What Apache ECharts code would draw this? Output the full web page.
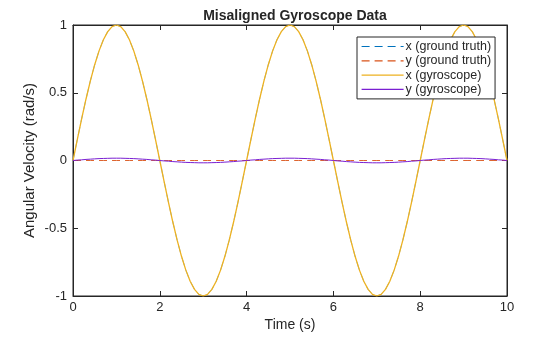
<!DOCTYPE html>
<html><head><meta charset="utf-8">
<script src="https://cdn.jsdelivr.net/npm/echarts@6/dist/echarts.min.js"></script>
<style>html,body{margin:0;padding:0;background:#fff}#c{width:560px;height:337px}</style>
</head><body><div id="c"></div>
<script>
const time = [0,0.1,0.2,0.3,0.4,0.5,0.6,0.7,0.8,0.9,1,1.1,1.2,1.3,1.4,1.5,1.6,1.7,1.8,1.9,
2,2.1,2.2,2.3,2.4,2.5,2.6,2.7,2.8,2.9,3,3.1,3.2,3.3,3.4,3.5,3.6,3.7,3.8,3.9,
4,4.1,4.2,4.3,4.4,4.5,4.6,4.7,4.8,4.9,5,5.1,5.2,5.3,5.4,5.5,5.6,5.7,5.8,5.9,
6,6.1,6.2,6.3,6.4,6.5,6.6,6.7,6.8,6.9,7,7.1,7.2,7.3,7.4,7.5,7.6,7.7,7.8,7.9,
8,8.1,8.2,8.3,8.4,8.5,8.6,8.7,8.8,8.9,9,9.1,9.2,9.3,9.4,9.5,9.6,9.7,9.8,9.9,10];
const xGroundTruth = [0,0.156,0.309,0.454,0.588,0.707,0.809,0.891,0.951,0.988,1,0.988,0.951,0.891,0.809,0.707,0.588,0.454,0.309,0.156,
0,-0.156,-0.309,-0.454,-0.588,-0.707,-0.809,-0.891,-0.951,-0.988,-1,-0.988,-0.951,-0.891,-0.809,-0.707,-0.588,-0.454,-0.309,-0.156,
0,0.156,0.309,0.454,0.588,0.707,0.809,0.891,0.951,0.988,1,0.988,0.951,0.891,0.809,0.707,0.588,0.454,0.309,0.156,
0,-0.156,-0.309,-0.454,-0.588,-0.707,-0.809,-0.891,-0.951,-0.988,-1,-0.988,-0.951,-0.891,-0.809,-0.707,-0.588,-0.454,-0.309,-0.156,
0,0.156,0.309,0.454,0.588,0.707,0.809,0.891,0.951,0.988,1,0.988,0.951,0.891,0.809,0.707,0.588,0.454,0.309,0.156,0];
const yGroundTruth = [0,0,0,0,0,0,0,0,0,0,0,0,0,0,0,0,0,0,0,0,
0,0,0,0,0,0,0,0,0,0,0,0,0,0,0,0,0,0,0,0,
0,0,0,0,0,0,0,0,0,0,0,0,0,0,0,0,0,0,0,0,
0,0,0,0,0,0,0,0,0,0,0,0,0,0,0,0,0,0,0,0,
0,0,0,0,0,0,0,0,0,0,0,0,0,0,0,0,0,0,0,0,0];
const xGyro = [0,0.156,0.309,0.454,0.588,0.707,0.809,0.891,0.951,0.988,1,0.988,0.951,0.891,0.809,0.707,0.588,0.454,0.309,0.156,
0,-0.156,-0.309,-0.454,-0.588,-0.707,-0.809,-0.891,-0.951,-0.988,-1,-0.988,-0.951,-0.891,-0.809,-0.707,-0.588,-0.454,-0.309,-0.156,
0,0.156,0.309,0.454,0.588,0.707,0.809,0.891,0.951,0.988,1,0.988,0.951,0.891,0.809,0.707,0.588,0.454,0.309,0.156,
0,-0.156,-0.309,-0.454,-0.588,-0.707,-0.809,-0.891,-0.951,-0.988,-1,-0.988,-0.951,-0.891,-0.809,-0.707,-0.588,-0.454,-0.309,-0.156,
0,0.156,0.309,0.454,0.588,0.707,0.809,0.891,0.951,0.988,1,0.988,0.951,0.891,0.809,0.707,0.588,0.454,0.309,0.156,0];
const yGyro = [0,0.003,0.005,0.008,0.010,0.012,0.014,0.015,0.016,0.017,0.017,0.017,0.016,0.015,0.014,0.012,0.010,0.008,0.005,0.003,
0,-0.003,-0.005,-0.008,-0.010,-0.012,-0.014,-0.015,-0.016,-0.017,-0.017,-0.017,-0.016,-0.015,-0.014,-0.012,-0.010,-0.008,-0.005,-0.003,
0,0.003,0.005,0.008,0.010,0.012,0.014,0.015,0.016,0.017,0.017,0.017,0.016,0.015,0.014,0.012,0.010,0.008,0.005,0.003,
0,-0.003,-0.005,-0.008,-0.010,-0.012,-0.014,-0.015,-0.016,-0.017,-0.017,-0.017,-0.016,-0.015,-0.014,-0.012,-0.010,-0.008,-0.005,-0.003,
0,0.003,0.005,0.008,0.010,0.012,0.014,0.015,0.016,0.017,0.017,0.017,0.016,0.015,0.014,0.012,0.010,0.008,0.005,0.003,0];
const seriesNames = ['x (ground truth)','y (ground truth)','x (gyroscope)','y (gyroscope)'];
const xTicks = [0,2,4,6,8,10];
const yTicks = [-1,-0.5,0,0.5,1];

const pairs = v => time.map((t,i)=>[t,v[i]]);
const ink = '#262626';
const font = 'Liberation Sans, Arial, sans-serif';
const chart = echarts.init(document.getElementById('c'));
const axisCommon = {
  axisLine:{show:true,onZero:false,lineStyle:{color:ink,width:1}},
  axisTick:{show:true,inside:true,length:5,lineStyle:{color:ink}},
  splitLine:{show:false}
};
chart.setOption({
  animation:false,
  backgroundColor:'#fff',
  title:{text:'Misaligned Gyroscope Data',left:290,top:4,textAlign:'center',
    textStyle:{fontFamily:font,fontSize:14,fontWeight:'bold',color:ink}},
  grid:{left:73,right:53,top:25,bottom:41,show:true,borderColor:ink,borderWidth:1,backgroundColor:'#fff'},
  legend:{orient:'vertical',left:357,top:37,padding:[3,4,3,4],itemGap:1.3,itemWidth:42,itemHeight:12,
    borderColor:ink,borderWidth:1,backgroundColor:'#fff',data:seriesNames,
    itemStyle:{opacity:0},lineStyle:{width:1.2},
    textStyle:{fontFamily:font,fontSize:12.5,color:ink,padding:[0,0,0,-3]}},
  xAxis:[
    Object.assign({type:'value',min:xTicks[0],max:xTicks[xTicks.length-1],interval:2,
      name:'Time (s)',nameLocation:'middle',nameGap:22,nameMoveOverlap:false,
      nameTextStyle:{fontFamily:font,fontSize:14,color:ink},
      axisLabel:{fontFamily:font,fontSize:13,color:ink,margin:5}},axisCommon),
    Object.assign({type:'value',position:'top',min:0,max:10,interval:2,axisLabel:{show:false}},axisCommon)
  ],
  yAxis:[
    Object.assign({type:'value',min:yTicks[0],max:yTicks[yTicks.length-1],interval:0.5,
      name:'Angular Velocity (rad/s)',nameLocation:'middle',nameGap:36,nameMoveOverlap:false,
      nameTextStyle:{fontFamily:font,fontSize:15,color:ink},
      axisLabel:{fontFamily:font,fontSize:13,color:ink,margin:6}},axisCommon),
    Object.assign({type:'value',position:'right',min:-1,max:1,interval:0.5,axisLabel:{show:false}},axisCommon)
  ],
  series:[
    {name:seriesNames[0],type:'line',symbol:'none',data:pairs(xGroundTruth),
      lineStyle:{color:'#0072BD',width:0.5,type:[8,5]},itemStyle:{color:'#0072BD'}},
    {name:seriesNames[1],type:'line',symbol:'none',data:pairs(yGroundTruth),
      lineStyle:{color:'#D95319',width:0.9,type:[8,5]},itemStyle:{color:'#D95319'}},
    {name:seriesNames[2],type:'line',symbol:'none',data:pairs(xGyro),
      lineStyle:{color:'#EDB120',width:1.3},itemStyle:{color:'#EDB120'}},
    {name:seriesNames[3],type:'line',symbol:'none',data:pairs(yGyro),
      lineStyle:{color:'#7A1FD2',width:1},itemStyle:{color:'#7A1FD2'}}
  ]
});
</script></body></html>
